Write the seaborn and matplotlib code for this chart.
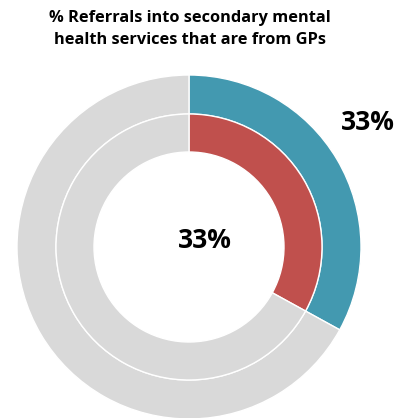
import matplotlib
matplotlib.use("Agg")
import matplotlib.pyplot as plt
import seaborn as sns

title = "% Referrals into secondary mental\nhealth services that are from GPs"
outer_values = [33, 67]
inner_values = [33, 67]
outer_label = "33%"
center_label = "33%"
outer_colors = ["#4399B0", "#D9D9D9"]
inner_colors = ["#C0504D", "#D9D9D9"]

sns.set_theme(style="white")
plt.rcParams['font.family'] = ['Open Sans', 'DejaVu Sans']

W, H = 403, 418
fig = plt.figure(figsize=(W / 100, H / 100), dpi=100)
ax = fig.add_axes([0, 0, 1, 1])
ax.set_xlim(0, W)
ax.set_ylim(0, H)
ax.axis("off")

cx, cy = 189, H - 247
ax.pie(outer_values, colors=outer_colors, radius=172, center=(cx, cy),
       startangle=90, counterclock=False,
       wedgeprops=dict(width=39, edgecolor="white", linewidth=1))
ax.pie(inner_values, colors=inner_colors, radius=133, center=(cx, cy),
       startangle=90, counterclock=False,
       wedgeprops=dict(width=38, edgecolor="white", linewidth=1))
ax.set_xlim(0, W)
ax.set_ylim(0, H)
ax.set_aspect("auto")

ax.text(190, H - 29, title, ha="center", va="center", fontsize=11.8,
        fontweight="bold", color="black", linespacing=1.45)
ax.text(205, H - 240, center_label, ha="center", va="center", fontsize=19,
        fontweight="bold", color="black")
ax.text(368, H - 123, outer_label, ha="center", va="center", fontsize=19,
        fontweight="bold", color="black")

fig.savefig("out.png", dpi=100)
